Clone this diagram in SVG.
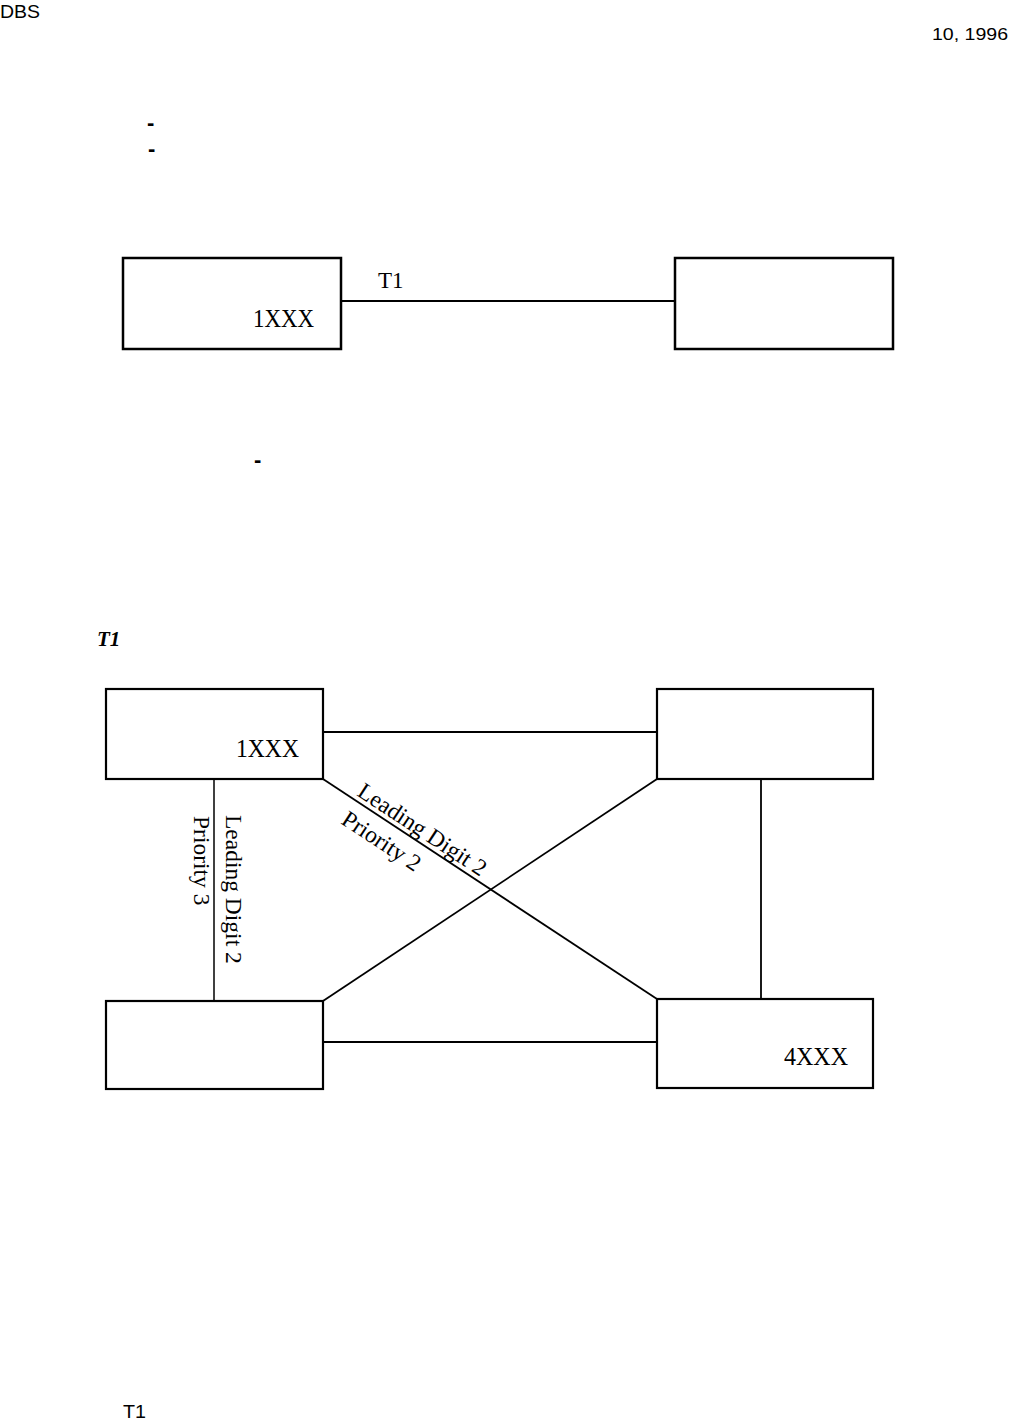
<svg xmlns="http://www.w3.org/2000/svg" width="1009" height="1422" viewBox="0 0 1009 1422">
<style>
.bg{fill:#ffffff}
.box{fill:none;stroke:#000;stroke-width:2.5}
.box2{fill:none;stroke:#000;stroke-width:2.2}
.ln{fill:none;stroke:#000;stroke-width:1.8}
.ln2{fill:none;stroke:#000;stroke-width:1.5}
.serif{font-family:"Liberation Serif","Times New Roman",serif;fill:#000}
.sans{font-family:"Liberation Sans",Arial,sans-serif;fill:#000}
.lbl{font-size:25px}
.edge{font-size:23.5px}
.dash{font-family:"Liberation Sans",Arial,sans-serif;font-size:22px;font-weight:bold;fill:#000}
</style>
<rect class="bg" x="0" y="0" width="1009" height="1422"/>

<g id="header">
  <text class="sans" x="0" y="18" font-size="18" textLength="40" lengthAdjust="spacingAndGlyphs">DBS</text>
  <text class="sans" x="932" y="40" font-size="17" textLength="76" lengthAdjust="spacingAndGlyphs">10, 1996</text>
  <text class="dash" x="147" y="130">-</text>
  <text class="dash" x="148" y="156">-</text>
  <text class="dash" x="254" y="467">-</text>
  <text class="sans" x="123" y="1418" font-size="19" textLength="23" lengthAdjust="spacingAndGlyphs">T1</text>
</g>

<!-- Diagram 1 -->
<g id="connectors1">
  <line class="ln" x1="341" y1="301" x2="675" y2="301"/>
  <text class="serif" x="378" y="288" font-size="23">T1</text>
</g>
<g id="d1-left">
  <rect class="box" x="123" y="258" width="218" height="91"/>
  <text class="serif lbl" x="253" y="327" textLength="61" lengthAdjust="spacingAndGlyphs">1XXX</text>
</g>
<g id="d1-right">
  <rect class="box" x="675" y="258" width="218" height="91"/>
</g>

<!-- Diagram 2 -->
<g id="title2">
  <text class="serif" x="97" y="646" font-size="21" font-weight="bold" font-style="italic">T1</text>
</g>

<g id="connectors">
  <line class="ln" x1="323" y1="732" x2="657" y2="732"/>
  <line class="ln" x1="323" y1="1042" x2="657" y2="1042"/>
  <line class="ln2" x1="214" y1="779" x2="214" y2="1001"/>
  <line class="ln" x1="761" y1="779" x2="761" y2="1000"/>
  <line class="ln" x1="323" y1="779" x2="657" y2="999"/>
  <line class="ln" x1="323" y1="1001" x2="657" y2="779"/>
  <text class="serif edge" transform="translate(356,795) rotate(33.4)">Leading Digit 2</text>
  <text class="serif edge" transform="translate(340,823) rotate(33.4)">Priority 2</text>
  <text class="serif edge" transform="translate(226,815) rotate(90)">Leading Digit 2</text>
  <text class="serif edge" transform="translate(194,816) rotate(90)">Priority 3</text>
</g>

<g id="node-a">
  <rect class="box2" x="106" y="689" width="217" height="90"/>
  <text class="serif lbl" x="236" y="757" textLength="63" lengthAdjust="spacingAndGlyphs">1XXX</text>
</g>
<g id="node-b">
  <rect class="box2" x="657" y="689" width="216" height="90"/>
</g>
<g id="node-c">
  <rect class="box2" x="106" y="1001" width="217" height="88"/>
</g>
<g id="node-d">
  <rect class="box2" x="657" y="999" width="216" height="89"/>
  <text class="serif lbl" x="784" y="1065" textLength="64" lengthAdjust="spacingAndGlyphs">4XXX</text>
</g>
</svg>
